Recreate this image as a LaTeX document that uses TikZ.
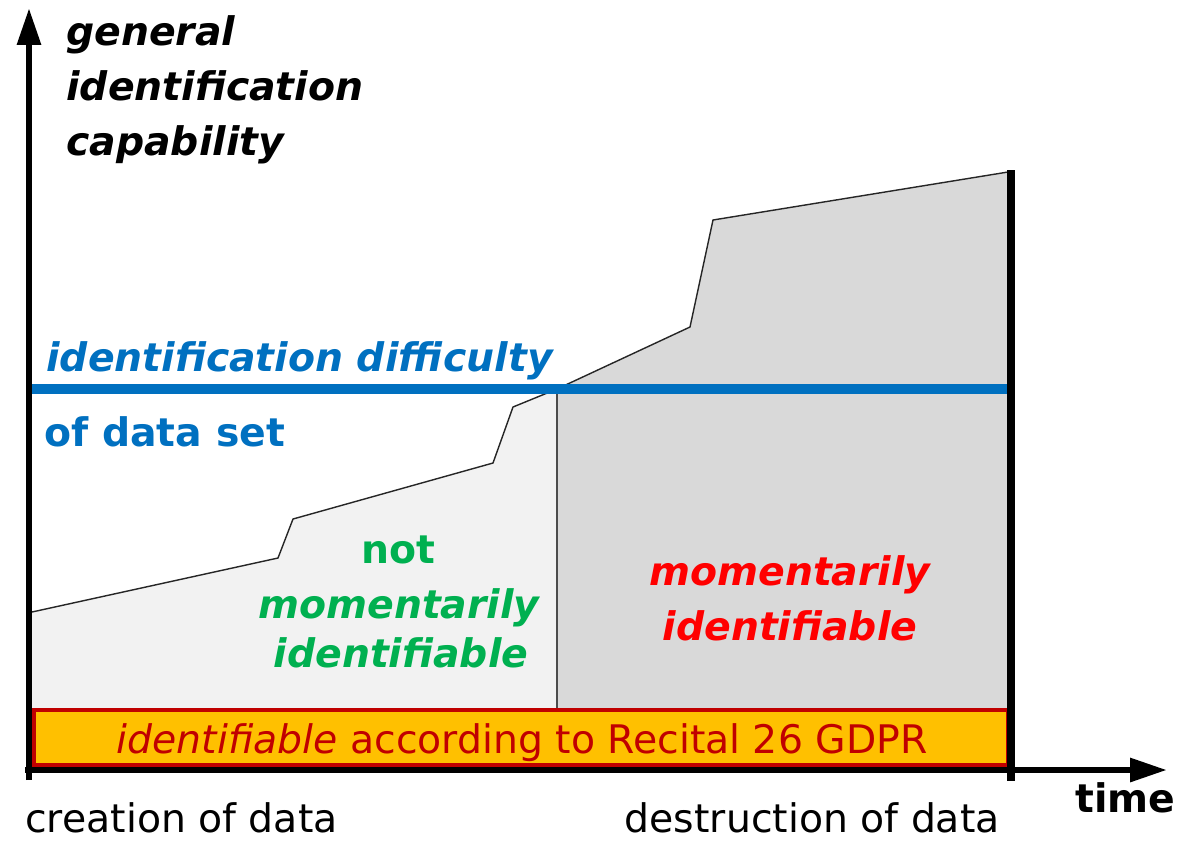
\documentclass[tikz,border=0pt]{standalone}
\usepackage{fontspec}
\setmainfont{DejaVu Sans}
\usetikzlibrary{arrows.meta}

\definecolor{diffblue}{HTML}{0070C0}
\definecolor{notgreen}{HTML}{00B050}
\definecolor{momred}{HTML}{FF0000}
\definecolor{gdprred}{HTML}{C00000}
\definecolor{gdpryellow}{HTML}{FFC000}
\definecolor{lowarea}{HTML}{F2F2F2}
\definecolor{higharea}{HTML}{D9D9D9}

\tikzset{
  txt/.style={inner sep=0pt, font=\fontsize{22.4}{27}\selectfont},
  axis/.style={line width=3.6pt, -{Triangle[length=21pt,width=13pt]}},
}

\begin{document}
\begin{tikzpicture}[x=0.02cm, y=-0.02cm]
			\useasboundingbox (0,0) rectangle (1191,840);

			% areas under the capability curve
			\fill[lowarea] (32,612) -- (278,558) -- (293,519) -- (493,463) -- (513,407) -- (557,389) -- (557,710) -- (32,710) -- cycle;
			\fill[higharea] (557,389) -- (690,327) -- (713,220) -- (1008,172) -- (1008,710) -- (557,710) -- cycle;
			\draw[line width=0.8pt, black!85] (32,612) -- (278,558) -- (293,519) -- (493,463) -- (513,407) -- (557,389) -- (690,327) -- (713,220) -- (1008,172);
			\draw[line width=1pt, black!70] (557,389) -- (557,710);

			\coordinate (dl) at (32,389);
			\coordinate (dr) at (1008,389);
			\draw[diffblue, line width=6.2pt] (dl) -- (dr);

			\draw[gdprred, fill=gdpryellow, line width=2.3pt] (34,710) rectangle (1008,765);

			\coordinate (ybot) at (29,780);
			\coordinate (ytop) at (29,8);
			\coordinate (xbeg) at (25,770);
			\coordinate (xend) at (1167,770);
			\coordinate (dtop) at (1011,170);
			\coordinate (dbot) at (1011,781);
			\draw[axis] (ybot) -- (ytop);
			\draw[axis] (xbeg) -- (xend);
			\draw[line width=5.1pt] (dtop) -- (dbot);

			\node[txt, anchor=base west, font=\fontsize{22.4}{27}\selectfont\bfseries\itshape] (cap1) at (66,45) {general};
			\node[txt, anchor=base west, font=\fontsize{22.4}{27}\selectfont\bfseries\itshape] (cap2) at (66,100) {identification};
			\node[txt, anchor=base west, font=\fontsize{22.4}{27}\selectfont\bfseries\itshape] (cap3) at (66,155) {capability};

			\node[txt, anchor=base west, text=diffblue, font=\fontsize{22.4}{27}\selectfont\bfseries\itshape] (diff) at (46,371) {identification difficulty};
			\node[txt, anchor=base west, text=diffblue, font=\fontsize{22.4}{27}\selectfont\bfseries] (dset) at (44,446) {of data set};

			\node[txt, anchor=base, text=notgreen, font=\fontsize{22.4}{27}\selectfont\bfseries] (not1) at (398,563) {not};
			\node[txt, anchor=base, text=notgreen, font=\fontsize{22.4}{27}\selectfont\bfseries\itshape] (not2) at (399,618) {momentarily};
			\node[txt, anchor=base, text=notgreen, font=\fontsize{22.4}{27}\selectfont\bfseries\itshape] (not3) at (401,667) {identifiable};

			\node[txt, anchor=base, text=momred, font=\fontsize{22.4}{27}\selectfont\bfseries\itshape] (mom1) at (790,585) {momentarily};
			\node[txt, anchor=base, text=momred, font=\fontsize{22.4}{27}\selectfont\bfseries\itshape] (mom2) at (790,640) {identifiable};

			\node[txt, anchor=base, text=gdprred] (gdpr) at (522,753) {\textit{identifiable} according to Recital 26 GDPR};

			\node[txt, anchor=base west] (create) at (25,832) {creation of data};
			\node[txt, anchor=base east] (destroy) at (1000,832) {destruction of data};
			\node[txt, anchor=base west, font=\fontsize{22.4}{27}\selectfont\bfseries] (time) at (1075,812) {time};
		\end{tikzpicture}
\end{document}
